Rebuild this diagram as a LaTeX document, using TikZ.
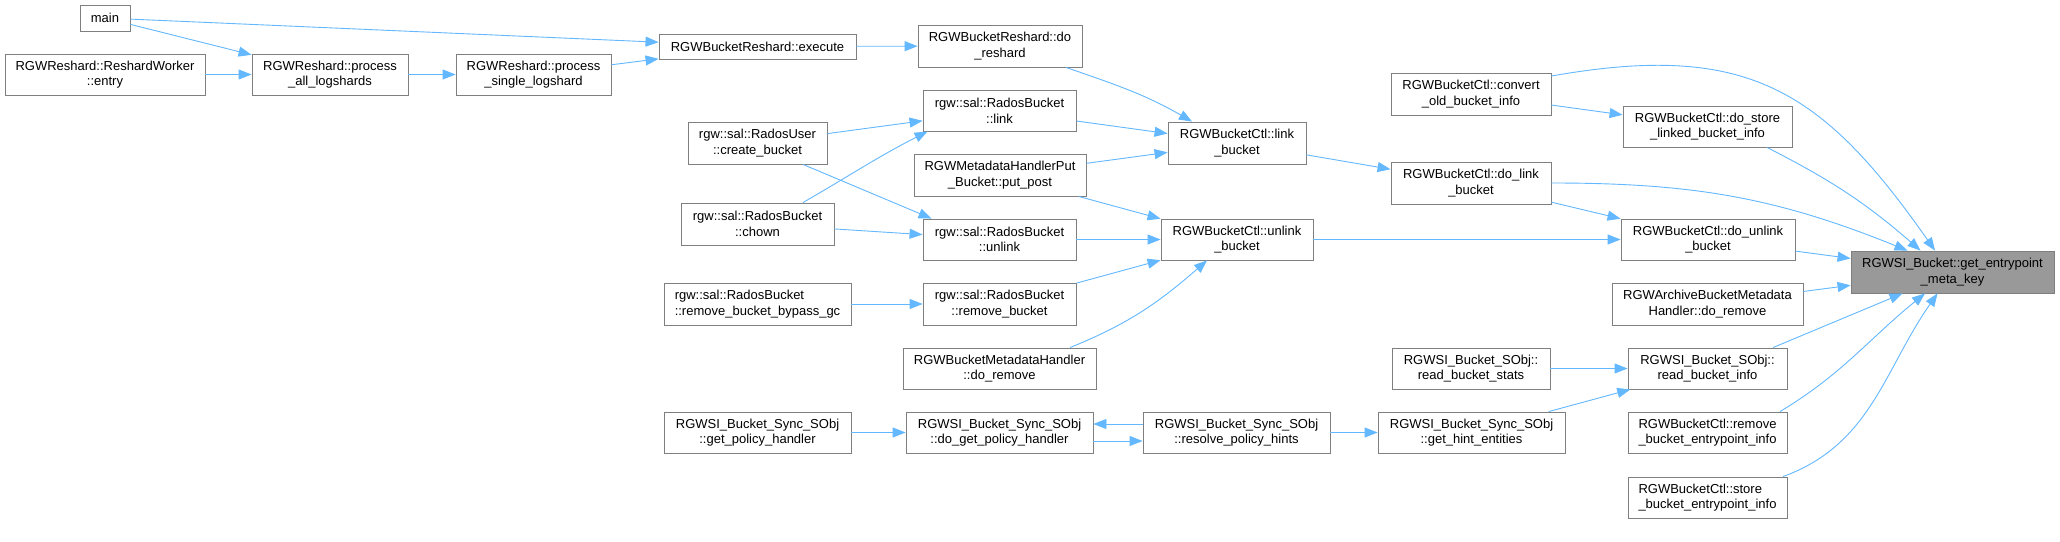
\documentclass[tikz,border=0pt]{standalone}
\usepackage{fontspec}
\setmainfont{Liberation Sans}
\usetikzlibrary{arrows.meta}
\definecolor{edgeblue}{HTML}{63B8FF}
\definecolor{boxgray}{HTML}{7F7F7F}
\definecolor{targetgray}{HTML}{999999}

\begin{document}
\begin{tikzpicture}[x=1pt, y=-1pt,
  fn/.style={rectangle, draw=boxgray, line width=0.9pt, fill=white, inner sep=0pt, minimum height=41pt, align=center, font=\fontsize{13}{15.6}\selectfont},
  call/.style={-{Triangle[length=13pt, width=10pt]}, draw=edgeblue, line width=0.9pt},
]
  \fill[white] (0,0) rectangle (2060,541);
  \useasboundingbox (0,0) rectangle (2060,541);

  \node[fn, minimum width=50pt, minimum height=26pt] (main) at (105,18) {main};
  \node[fn, minimum width=200pt] (entry) at (105,74.5) {RGWReshard::ReshardWorker\\::entry};
  \node[fn, minimum width=156pt] (procall) at (330,74.5) {RGWReshard::process\\\_all\_logshards};
  \node[fn, minimum width=155pt] (procsingle) at (533.5,74.5) {RGWReshard::process\\\_single\_logshard};
  \node[fn, minimum width=197pt, minimum height=25pt] (execute) at (757.5,46.5) {RGWBucketReshard::execute};
  \node[fn, minimum width=139pt, minimum height=42pt] (createbkt) at (757.5,143) {rgw::sal::RadosUser\\::create\_bucket};
  \node[fn, minimum width=153pt, minimum height=42pt] (chown) at (757.5,224) {rgw::sal::RadosBucket\\::chown};
  \node[fn, minimum width=187pt, minimum height=42pt, align=left] (bypassgc) at (757.5,304) {rgw::sal::RadosBucket\\::remove\_bucket\_bypass\_gc};
  \node[fn, minimum width=187pt] (getpolicy) at (757.5,432.5) {RGWSI\_Bucket\_Sync\_SObj\\::get\_policy\_handler};

  \node[fn, minimum width=164pt, minimum height=42pt] (doreshard) at (1000,46) {RGWBucketReshard::do\\\_reshard};
  \node[fn, minimum width=153pt] (rblink) at (999.5,110.5) {rgw::sal::RadosBucket\\::link};
  \node[fn, minimum width=172pt, minimum height=42pt] (putpost) at (1000,175) {RGWMetadataHandlerPut\\\_Bucket::put\_post};
  \node[fn, minimum width=153pt] (rbunlink) at (999.5,239.5) {rgw::sal::RadosBucket\\::unlink};
  \node[fn, minimum width=153pt, minimum height=42pt] (rbremove) at (999.5,304) {rgw::sal::RadosBucket\\::remove\_bucket};
  \node[fn, minimum width=193pt] (mhdoremove) at (999.5,368.5) {RGWBucketMetadataHandler\\::do\_remove};
  \node[fn, minimum width=187pt] (dogetpolicy) at (999.5,432.5) {RGWSI\_Bucket\_Sync\_SObj\\::do\_get\_policy\_handler};

  \node[fn, minimum width=138pt, minimum height=42pt] (linkbkt) at (1237,143) {RGWBucketCtl::link\\\_bucket};
  \node[fn, minimum width=152pt] (unlinkbkt) at (1237,239.5) {RGWBucketCtl::unlink\\\_bucket};
  \node[fn, minimum width=187pt] (resolve) at (1236.5,432.5) {RGWSI\_Bucket\_Sync\_SObj\\::resolve\_policy\_hints};

  \node[fn, minimum width=160pt, minimum height=42pt] (convert) at (1471,94) {RGWBucketCtl::convert\\\_old\_bucket\_info};
  \node[fn, minimum width=160pt, minimum height=42pt] (dolink) at (1471,183) {RGWBucketCtl::do\_link\\\_bucket};
  \node[fn, minimum width=158pt] (readstats) at (1471,368.5) {RGWSI\_Bucket\_SObj::\\read\_bucket\_stats};
  \node[fn, minimum width=187pt] (hintent) at (1471.5,432.5) {RGWSI\_Bucket\_Sync\_SObj\\::get\_hint\_entities};

  \node[fn, minimum width=169pt] (dostore) at (1707.5,126.5) {RGWBucketCtl::do\_store\\\_linked\_bucket\_info};
  \node[fn, minimum width=174pt] (dounlink) at (1708,239.5) {RGWBucketCtl::do\_unlink\\\_bucket};
  \node[fn, minimum width=191pt, minimum height=42pt] (archive) at (1707.5,304) {RGWArchiveBucketMetadata\\Handler::do\_remove};
  \node[fn, minimum width=159pt] (readinfo) at (1707.5,368.5) {RGWSI\_Bucket\_SObj::\\read\_bucket\_info};
  \node[fn, minimum width=159pt] (removeep) at (1707.5,432.5) {RGWBucketCtl::remove\\\_bucket\_entrypoint\_info};
  \node[fn, minimum width=159pt, align=left] (storeep) at (1707.5,497.5) {RGWBucketCtl::store\\\_bucket\_entrypoint\_info};

  \node[fn, fill=targetgray, minimum width=203pt, minimum height=42pt] (target) at (1952.5,272) {RGWSI\_Bucket::get\_entrypoint\\\_meta\_key};

  \draw[call] (main) -- (procall);
  \draw[call] (main) -- (execute);
  \draw[call] (entry) -- (procall);
  \draw[call] (procall) -- (procsingle);
  \draw[call] (procsingle) -- (execute);
  \draw[call] (execute) -- (doreshard);
  \draw[call] ([xshift=66pt]doreshard.south) to[out=-19, in=150] ([xshift=-45pt]linkbkt.north);
  \draw[call] (rblink) -- (linkbkt);
  \draw[call] (putpost) -- (linkbkt);
  \draw[call] (createbkt) -- (rblink);
  \draw[call] ([xshift=45.5pt]chown.north) to[out=30, in=207] ([xshift=5pt]rblink.south west);
  \draw[call] ([xshift=45.5pt]createbkt.south) -- ([xshift=9pt]rbunlink.north west);
  \draw[call] (chown) -- (rbunlink);
  \draw[call] (linkbkt) -- (dolink);
  \draw[call] (putpost) -- (unlinkbkt);
  \draw[call] (rbunlink) -- (unlinkbkt);
  \draw[call] (rbremove) -- (unlinkbkt);
  \draw[call] ([xshift=70.5pt]mhdoremove.north) to[out=22, in=221] ([xshift=-30pt]unlinkbkt.south);
  \draw[call] (bypassgc) -- (rbremove);
  \draw[call] (getpolicy) -- (dogetpolicy);
  \draw[call] ([yshift=8.5pt]resolve.west) -- ([yshift=8.5pt]dogetpolicy.east);
  \draw[call] ([yshift=-8.5pt]dogetpolicy.east) -- ([yshift=-8.5pt]resolve.west);
  \draw[call] (resolve) -- (hintent);
  \draw[call] (hintent) -- (readinfo);
  \draw[call] (readstats) -- (readinfo);
  \draw[call] (unlinkbkt) -- (dounlink);
  \draw[call] (dolink) -- (dounlink);
  \draw[call] (convert) -- (dostore);
  \draw[call] ([yshift=18pt]convert.east) to[out=10, in=125, looseness=1.2] ([xshift=-17.5pt]target.north);
  \draw[call] ([xshift=59.5pt]dostore.south) to[out=-27, in=139] ([xshift=-32pt]target.north);
  \draw[call] (dolink.east) to[out=0, in=158] ([xshift=-45pt]target.north);
  \draw[call] (dounlink) -- (target);
  \draw[call] (archive) -- (target);
  \draw[call] ([xshift=65.5pt]readinfo.north) -- ([xshift=-50pt]target.south);
  \draw[call] ([xshift=72.5pt]removeep.north) to[out=31, in=219] ([xshift=-27.5pt]target.south);
  \draw[call] ([xshift=75.5pt]storeep.north) to[out=20, in=235] ([xshift=-15pt]target.south);
\end{tikzpicture}
\end{document}
